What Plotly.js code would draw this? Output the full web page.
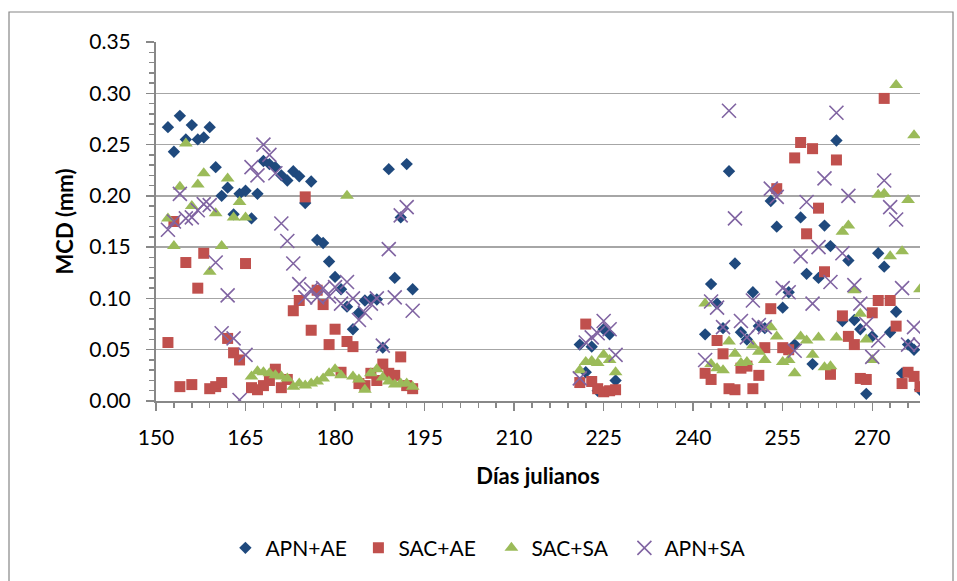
<!DOCTYPE html>
<html>
<head>
<meta charset="utf-8">
<script src="https://cdn.plot.ly/plotly-3.0.1.min.js"></script>
<style>
html,body{margin:0;padding:0;background:#fff;overflow:hidden;}
#chart{width:957px;height:581px;}
</style>
</head>
<body>
<div id="chart"></div>
<script>
// Días julianos (shared by all series)
const dias = [
  152,153,154,155,156,157,158,159,160,161,162,163,164,165,166,167,168,169,170,171,172,
  173,174,175,176,177,178,179,180,181,182,183,184,185,186,187,188,189,190,191,192,193,
  221,222,223,224,225,226,227,
  242,243,244,245,246,247,248,249,250,251,252,253,254,255,256,257,258,259,260,
  261,262,263,264,265,266,267,268,269,270,271,272,273,274,275,276,277,278
];

const apnAE = [
  0.267,0.243,0.278,0.255,0.269,0.255,0.257,0.267,0.228,0.200,0.208,0.182,0.202,0.205,0.178,0.202,0.234,0.231,0.228,0.220,0.215,
  0.224,0.219,0.193,0.214,0.157,0.154,0.136,0.121,0.109,0.092,0.070,0.086,0.098,0.099,0.099,0.052,0.226,0.120,0.179,0.231,0.109,
  0.055,0.028,0.053,0.010,0.070,0.065,0.020,
  0.065,0.114,0.095,0.071,0.224,0.134,0.067,0.060,0.106,0.073,0.071,0.195,0.170,0.091,0.106,0.055,0.179,0.124,0.036,
  0.120,0.171,0.151,0.254,0.078,0.137,0.079,0.070,0.007,0.063,0.144,0.131,0.067,0.087,0.027,0.055,0.050,0.011
];

const sacAE = [
  0.057,0.175,0.014,0.135,0.016,0.110,0.144,0.012,0.014,0.018,0.061,0.047,0.040,0.134,0.013,0.011,0.015,0.020,0.031,0.013,0.021,
  0.088,0.098,0.199,0.069,0.108,0.094,0.055,0.070,0.028,0.058,0.053,0.017,0.015,0.027,0.020,0.036,0.027,0.025,0.043,0.015,0.012,
  0.018,0.075,0.019,0.012,0.009,0.010,0.011,
  0.027,0.021,0.059,0.046,0.012,0.011,0.032,0.034,0.012,0.025,0.052,0.090,0.207,0.052,0.050,0.237,0.252,0.163,0.246,
  0.188,0.126,0.026,0.235,0.083,0.063,0.055,0.022,0.021,0.086,0.098,0.295,0.098,0.073,0.017,0.028,0.024,0.014
];

const sacSA = [
  0.178,0.151,0.209,0.251,0.190,0.211,0.222,0.126,0.183,0.151,0.217,0.179,0.194,0.179,0.024,0.029,0.028,0.027,0.025,0.024,0.022,
  0.014,0.017,0.015,0.017,0.019,0.022,0.027,0.031,0.025,0.200,0.024,0.021,0.011,0.027,0.031,0.023,0.019,0.016,0.017,0.017,0.014,
  0.030,0.038,0.039,0.037,0.045,0.040,0.028,
  0.095,0.036,0.032,0.030,0.058,0.046,0.037,0.038,0.054,0.048,0.040,0.072,0.063,0.038,0.040,0.027,0.063,0.059,0.045,
  0.062,0.033,0.034,0.062,0.165,0.171,0.108,0.085,0.060,0.040,0.201,0.202,0.141,0.308,0.146,0.196,0.259,0.109
];

const apnSA = [
  0.167,0.175,0.202,0.178,0.179,0.186,0.192,0.191,0.135,0.066,0.103,0.061,0.001,0.045,0.228,0.220,0.250,0.240,0.222,0.173,0.156,
  0.134,0.114,0.101,0.109,0.101,0.110,0.102,0.111,0.095,0.116,0.100,0.079,0.086,0.095,0.100,0.054,0.148,0.101,0.181,0.189,0.088,
  0.022,0.057,0.062,0.066,0.078,0.070,0.045,
  0.040,0.097,0.091,0.072,0.283,0.178,0.078,0.062,0.098,0.074,0.072,0.207,0.199,0.110,0.106,0.049,0.141,0.194,0.095,
  0.150,0.217,0.116,0.281,0.144,0.200,0.113,0.095,0.075,0.043,0.059,0.215,0.189,0.177,0.110,0.055,0.072,0.055
];

const seriesNames = ['APN+AE','SAC+AE','SAC+SA','APN+SA'];
const xTicks = [150,165,180,195,210,225,240,255,270];
const yTicks = [0,0.05,0.10,0.15,0.20,0.25,0.30,0.35];

const FONT = 'Lato, "Liberation Sans", sans-serif';

const traces = [
  {x: dias, y: apnAE, name: seriesNames[0], type:'scatter', mode:'markers',
   marker:{symbol:'diamond', size:9.5, color:'#1F497D'}},
  {x: dias, y: sacAE, name: seriesNames[1], type:'scatter', mode:'markers',
   marker:{symbol:'square', size:11, color:'#C0504D'}},
  {x: dias, y: sacSA, name: seriesNames[2], type:'scatter', mode:'markers',
   marker:{symbol:'triangle-up', size:12, color:'#9BBB59'}},
  {x: dias, y: apnSA, name: seriesNames[3], type:'scatter', mode:'markers',
   marker:{symbol:'x-thin-open', size:14, color:'#8064A2', line:{color:'#8064A2', width:1.6}}}
];

const layout = {
  width:957, height:581,
  margin:{l:156, r:37, t:42, b:180, pad:0},
  paper_bgcolor:'#ffffff', plot_bgcolor:'#ffffff',
  font:{family:FONT, size:21, color:'#000'},
  showlegend:true,
  legend:{orientation:'h', x:0.439, xanchor:'center', y:-0.41, yanchor:'middle',
          font:{family:FONT, size:21, color:'#000'}, itemwidth:30, tracegroupgap:0,
          entrywidth:88, entrywidthmode:'pixels'},
  xaxis:{
    range:[150,278], tickmode:'array', tickvals:xTicks, ticktext:xTicks.map(String),
    showgrid:false, zeroline:false, showline:true, linecolor:'#888888', linewidth:2,
    ticks:'outside', ticklen:8, tickwidth:1.5, tickcolor:'#888888',
    minor:{dtick:3, tick0:150, ticks:'outside', ticklen:5, tickwidth:1.5, tickcolor:'#888888', showgrid:false},
    tickfont:{family:FONT, size:21, color:'#000'},
    ticklabelstandoff:9,
    title:{text:'<b>Días julianos</b>', font:{family:FONT, size:22, color:'#000'}, standoff:20}
  },
  yaxis:{
    range:[0,0.35], tickmode:'array', tickvals:yTicks, ticktext:yTicks.map(v=>v.toFixed(2)),
    showgrid:true, gridcolor:'#A6A6A6', gridwidth:1.5,
    zeroline:false, showline:true, linecolor:'#888888', linewidth:2,
    ticks:'outside', ticklen:8, tickwidth:1.5, tickcolor:'#888888',
    minor:{dtick:0.01, tick0:0, ticks:'outside', ticklen:5, tickwidth:1.5, tickcolor:'#888888', showgrid:false},
    tickfont:{family:FONT, size:21, color:'#000'},
    ticklabelstandoff:11,
    title:{text:'<b>MCD (mm)</b>', font:{family:FONT, size:22, color:'#000'}, standoff:10}
  },
  shapes:[
    {type:'rect', xref:'paper', yref:'paper',
     x0:(9-156)/764, x1:(953-156)/764, y0:(401-600)/359, y1:(401-12)/359,
     line:{color:'#868686', width:1.2}, fillcolor:'rgba(0,0,0,0)', layer:'below'}
  ]
};

Plotly.newPlot('chart', traces, layout, {staticPlot:true, displayModeBar:false});
</script>
</body>
</html>
